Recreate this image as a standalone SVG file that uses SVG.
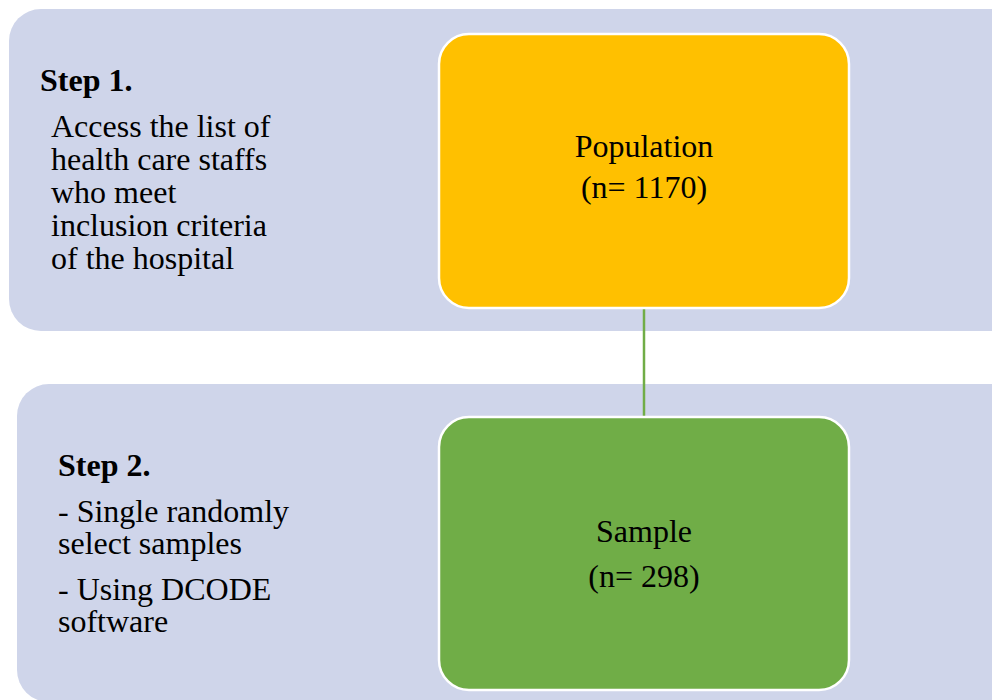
<svg xmlns="http://www.w3.org/2000/svg" width="992" height="700" viewBox="0 0 992 700">
<style>
.panel{fill:#CFD5EA;}
.box{stroke:#FFFFFF;stroke-width:2.5;}
text{font-family:"Liberation Serif","Times New Roman",serif;font-size:32px;fill:#000;}
.b{font-weight:bold;}
.c{text-anchor:middle;}
.conn{stroke:#70AD47;stroke-width:2.5;fill:none;}
</style>
<rect width="992" height="700" fill="#FFFFFF"/>
<g id="step1">
<rect class="panel" x="9" y="9" width="1020" height="322" rx="32" ry="32"/>
<text class="b" x="40" y="91">Step 1.</text>
<text x="51" y="137">Access the list of</text>
<text x="51" y="170">health care staffs</text>
<text x="51" y="203">who meet</text>
<text x="51" y="236">inclusion criteria</text>
<text x="51" y="269">of the hospital</text>
</g>
<g id="step2">
<rect class="panel" x="17" y="384" width="1010" height="318" rx="32" ry="32"/>
<text class="b" x="58" y="476">Step 2.</text>
<text x="58" y="522">- Single randomly</text>
<text x="58" y="554">select samples</text>
<text x="58" y="600">- Using DCODE</text>
<text x="58" y="632">software</text>
</g>
<g id="connectors">
<line class="conn" x1="644" y1="308" x2="644" y2="417"/>
</g>
<g id="population">
<rect class="box" x="439" y="34" width="410" height="274" rx="30" ry="30" fill="#FFC000"/>
<text class="c" x="644" y="157">Population</text>
<text class="c" x="644" y="198">(n= 1170)</text>
</g>
<g id="sample">
<rect class="box" x="439" y="417" width="410" height="273" rx="30" ry="30" fill="#70AD47"/>
<text class="c" x="644" y="542">Sample</text>
<text class="c" x="644" y="587">(n= 298)</text>
</g>
</svg>
